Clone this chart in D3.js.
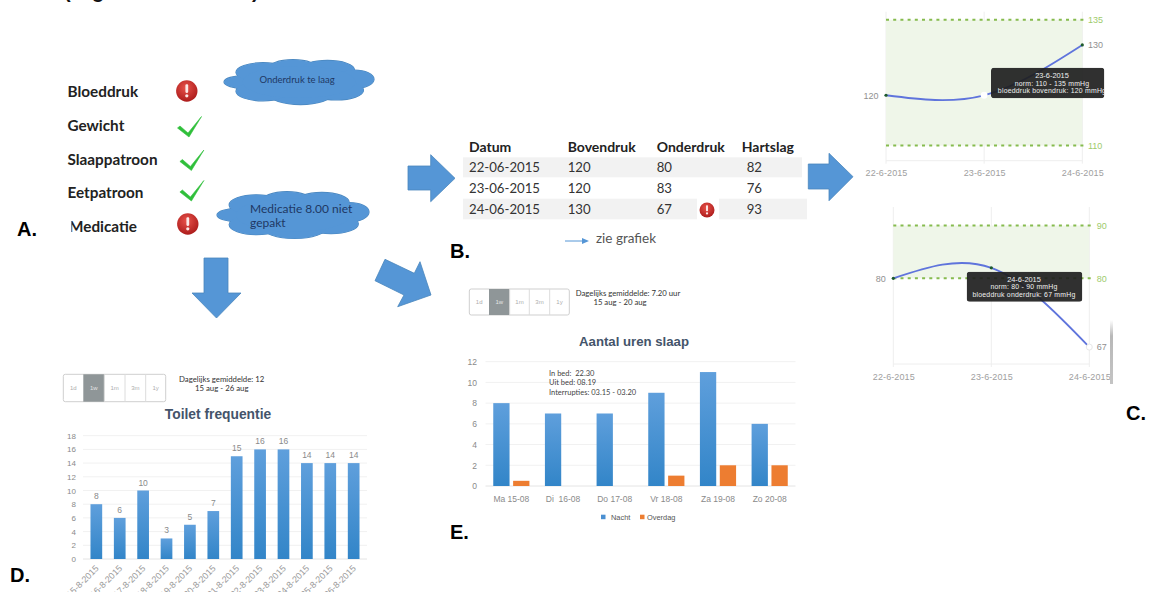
<!DOCTYPE html>
<html lang="nl">
<head>
<meta charset="utf-8">
<title>Patiëntoverzicht</title>
<script src="https://cdn.jsdelivr.net/npm/d3@7/dist/d3.min.js"></script>
<style>
  html, body { margin: 0; padding: 0; background: #fff; overflow: hidden; }
  svg { display: block; }
  text { font-family: "Liberation Sans", Arial, sans-serif; }
  .lato { font-family: Lato, sans-serif; }
  .axis .domain { display: none; }
</style>
</head>
<body>
<svg id="board" width="1149" height="592" viewBox="0 0 1149 592"></svg>
<script>
// Status overview
const statusItems = ["Bloeddruk", "Gewicht", "Slaappatroon", "Eetpatroon", "Medicatie"];

// Daily measurements table
const tableColumns = ["Datum", "Bovendruk", "Onderdruk", "Hartslag"];
const tableDates = ["22-06-2015", "23-06-2015", "24-06-2015"];
const tableUpper = [120, 120, 130];
const tableLower = [80, 83, 67];
const tablePulse = [82, 76, 93];

// Blood pressure trend charts
const trendDates = ["22-6-2015", "23-6-2015", "24-6-2015"];
const upperValues = [120, 120, 130];
const upperNorm = [110, 135];
const lowerValues = [80, 82, 67];
const lowerNorm = [80, 90];

// Toilet frequency chart
const toiletDates = ["15-8-2015", "16-8-2015", "17-8-2015", "18-8-2015", "19-8-2015", "20-8-2015",
  "21-8-2015", "22-8-2015", "23-8-2015", "24-8-2015", "25-8-2015", "26-8-2015"];
const toiletCounts = [8, 6, 10, 3, 5, 7, 15, 16, 16, 14, 14, 14];
const toiletTicks = [0, 2, 4, 6, 8, 10, 12, 14, 16, 18];

// Sleep chart
const sleepDays = ["Ma 15-08", "Di  16-08", "Do 17-08", "Vr 18-08", "Za 19-08", "Zo 20-08"];
const sleepNight = [8, 7, 7, 9, 11, 6];
const sleepDay = [0.5, 0, 0, 1, 2, 2];
const sleepTicks = [0, 2, 4, 6, 8, 10, 12];
const rangeOptions = ["1d", "1w", "1m", "3m", "1y"];

const BLUE = "#5596d6";
const svg = d3.select("#board");
const defs = svg.append("defs");

const barFill = defs.append("linearGradient").attr("id", "barFill")
  .attr("x1", 0).attr("y1", 0).attr("x2", 0).attr("y2", 1);
barFill.append("stop").attr("offset", "0%").attr("stop-color", "#5f9fdc");
barFill.append("stop").attr("offset", "100%").attr("stop-color", "#3285c8");

const alertFill = defs.append("radialGradient").attr("id", "alertFill")
  .attr("cx", "45%").attr("cy", "35%").attr("r", "70%");
alertFill.append("stop").attr("offset", "0%").attr("stop-color", "#e8524a");
alertFill.append("stop").attr("offset", "100%").attr("stop-color", "#a81818");

const shadeFill = defs.append("linearGradient").attr("id", "shadeFill")
  .attr("x1", 0).attr("y1", 0).attr("x2", 0).attr("y2", 1);
shadeFill.append("stop").attr("offset", "0%").attr("stop-color", "#ffffff");
shadeFill.append("stop").attr("offset", "25%").attr("stop-color", "#b8b8b8");
shadeFill.append("stop").attr("offset", "100%").attr("stop-color", "#c4c4c4");

function label(parent, x, y, str, opts = {}) {
  const t = parent.append("text").attr("x", x).attr("y", y).text(str)
    .attr("font-size", opts.size || 10)
    .attr("fill", opts.fill || "#333")
    .attr("text-anchor", opts.anchor || "start")
    .attr("font-weight", opts.weight || "normal");
  if (opts.cls) t.attr("class", opts.cls);
  return t;
}

function arrow(points) {
  svg.append("polygon")
    .attr("points", points.map(p => p.join(",")).join(" "))
    .attr("fill", BLUE).attr("stroke", "#4a86bd").attr("stroke-width", 0.8);
}

function alertIcon(cx, cy, r) {
  const g = svg.append("g").attr("transform", `translate(${cx},${cy})`);
  g.append("circle").attr("r", r).attr("fill", "url(#alertFill)");
  g.append("rect").attr("x", -r * 0.13).attr("y", -r * 0.62)
    .attr("width", r * 0.26).attr("height", r * 0.8).attr("rx", r * 0.1).attr("fill", "#fbe9e7");
  g.append("circle").attr("cy", r * 0.45).attr("r", r * 0.15).attr("fill", "#fbe9e7");
}

function checkIcon(dx, dy) {
  svg.append("path")
    .attr("d", "M177.5,128 L180,126 L188,133 L201.5,116.5 L189,137 Z")
    .attr("transform", `translate(${dx},${dy})`)
    .attr("fill", "#2fbf3a").attr("stroke", "#2fbf3a").attr("stroke-width", 0.6);
}

function cloud(cx, cy, rx, ry) {
  // A ring of overlapping ellipses: outlined first, then filled over to merge the outline.
  const lobes = [[-0.72, 0, 0.28, 0.28], [-0.48, -0.42, 0.36, 0.42], [-0.08, -0.55, 0.34, 0.42],
    [0.38, -0.52, 0.36, 0.42], [0.74, -0.12, 0.26, 0.4], [0.5, 0.36, 0.36, 0.42],
    [0.02, 0.52, 0.42, 0.46], [-0.48, 0.4, 0.36, 0.42], [0, 0, 0.75, 0.7]];
  const g = svg.append("g").attr("transform", `translate(${cx},${cy})`);
  const draw = (fill, stroke) => g.append("g").selectAll("ellipse").data(lobes).join("ellipse")
    .attr("cx", d => d[0] * rx).attr("cy", d => d[1] * ry)
    .attr("rx", d => d[2] * rx).attr("ry", d => d[3] * ry)
    .attr("fill", fill).attr("stroke", stroke).attr("stroke-width", 1.2);
  draw("none", "#4a86bd");
  draw(BLUE, "none");
}

/* Panel letters */
[["A.", 17, 236], ["B.", 450, 258], ["C.", 1126, 420], ["D.", 10, 582], ["E.", 450, 539]]
  .forEach(([s, x, y]) => label(svg, x, y, s, { size: 20, weight: "bold", fill: "#000" }));

/* Heading line running off the top edge: only its descenders remain visible */
[["(", 64], ["g", 92], [")", 252]].forEach(([s, x]) =>
  label(svg, x, -2, s, { size: 20, weight: "bold", fill: "#111" }));

/* Panel A: status list */
const statusY = d3.scalePoint().domain(statusItems).range([97, 232]);
statusItems.forEach((s, i) =>
  label(svg, i === 4 ? 69 : 67.5, statusY(s), s,
    { size: 15.3, weight: "bold", fill: "#222", cls: "lato" }));
// The first letter of the last row sits partly under the pasted panel edge
svg.append("rect").attr("x", 66).attr("y", 218).attr("width", 5.4).attr("height", 18).attr("fill", "#fff");
alertIcon(186.8, 91, 10.7);
alertIcon(187.8, 224, 10.7);
checkIcon(0, 0);
checkIcon(2.4, 33.5);
checkIcon(2.4, 64);

cloud(299, 82, 75, 23);
cloud(293, 215, 76, 24);
label(svg, 297, 83, "Onderdruk te laag", { size: 9.5, fill: "#1f3864", anchor: "middle", cls: "lato" });
label(svg, 250, 213, "Medicatie 8.00 niet", { size: 12, fill: "#1f3864", cls: "lato" });
label(svg, 250, 227, "gepakt", { size: 12, fill: "#1f3864", cls: "lato" });

/* Flow arrows between panels */
arrow([[204, 258], [228, 258], [228, 293], [241, 293], [216.5, 318], [192, 293], [204, 293]]);
arrow([[408, 166], [430.7, 166], [430.7, 154.7], [455, 178.3], [430.7, 201.7], [430.7, 190], [408, 190]]);
arrow([[808.3, 164], [829, 164], [829, 153.3], [853, 176.7], [829, 200.7], [829, 189], [808.3, 189]]);
arrow([[385, 259.3], [414.3, 273.3], [420, 261.7], [431, 295], [397.7, 306.7], [404, 295], [375, 280.7]]);

/* Panel B: measurements table */
svg.append("rect").attr("x", 463).attr("y", 157.3).attr("width", 339).attr("height", 20).attr("fill", "#f2f2f2");
svg.append("rect").attr("x", 463).attr("y", 198.7).attr("width", 234).attr("height", 20.6).attr("fill", "#f2f2f2");
svg.append("rect").attr("x", 719).attr("y", 198.7).attr("width", 88).attr("height", 20.6).attr("fill", "#f2f2f2");

const columnX = [469, 567.7, 656.7, 741.7];
tableColumns.forEach((c, i) =>
  label(svg, columnX[i], 151.7, c, { size: 14, weight: "bold", fill: "#222", cls: "lato" }));
const rowY = [172.3, 193.3, 214];
tableDates.forEach((d, i) => {
  [d, tableUpper[i], tableLower[i]].forEach((v, j) =>
    label(svg, columnX[j], rowY[i], v, { size: 13.2, fill: "#333", cls: "lato" }));
  label(svg, 746.7, rowY[i], tablePulse[i], { size: 13.2, fill: "#333", cls: "lato" });
});
alertIcon(707, 210, 7.5);

svg.append("line").attr("x1", 565).attr("x2", 584).attr("y1", 241).attr("y2", 241)
  .attr("stroke", BLUE).attr("stroke-width", 1);
svg.append("path").attr("d", "M582,238 L589,241 L582,244 Z").attr("fill", BLUE);
label(svg, 596, 242.7, "zie grafiek", { size: 13.5, fill: "#555", cls: "lato" });

/* Panel C: blood pressure trends */
function trendChart(cfg) {
  const g = svg.append("g");
  const x = d3.scalePoint().domain(trendDates).range(cfg.xRange);
  const y = d3.scaleLinear().domain(cfg.domain).range(cfg.yRange);
  const top = cfg.yRange[1], bottom = cfg.yRange[0];

  // vertical guides and baseline
  g.selectAll("line.guide").data(trendDates).join("line").attr("class", "guide")
    .attr("x1", d => x(d)).attr("x2", d => x(d)).attr("y1", top).attr("y2", bottom + 3)
    .attr("stroke", "#eeeeee");
  g.append("line").attr("x1", cfg.xRange[0]).attr("x2", cfg.xRange[1])
    .attr("y1", bottom).attr("y2", bottom).attr("stroke", "#eeeeee");

  // norm band with dashed limits
  g.append("rect").attr("x", cfg.xRange[0]).attr("width", cfg.xRange[1] - cfg.xRange[0])
    .attr("y", y(cfg.norm[1])).attr("height", y(cfg.norm[0]) - y(cfg.norm[1])).attr("fill", "#eff6e9");
  g.selectAll("line.norm").data(cfg.norm).join("line").attr("class", "norm")
    .attr("x1", cfg.xRange[0]).attr("x2", cfg.xRange[1] + 2)
    .attr("y1", d => y(d)).attr("y2", d => y(d))
    .attr("stroke", "#86bb4e").attr("stroke-width", 2).attr("stroke-dasharray", "3 4.2");

  const line = d3.line().x((d, i) => x(trendDates[i])).y(d => y(d)).curve(d3.curveNatural);
  g.append("path").attr("d", line(cfg.values)).attr("fill", "none")
    .attr("stroke", "#5f74dc").attr("stroke-width", 1.8);

  cfg.dots.forEach(([i, kind]) => {
    const c = g.append("circle").attr("cx", x(trendDates[i])).attr("cy", y(cfg.values[i]));
    if (kind === "open") c.attr("r", 3).attr("fill", "#fff").attr("stroke", "#e8e8e8");
    else if (kind === "halo") c.attr("r", 3.4).attr("fill", "#fff");
    else c.attr("r", 1.6).attr("fill", "#1d5a2c");
  });

  const xAxis = g.append("g").attr("class", "axis")
    .attr("transform", `translate(0,${cfg.xLabelY})`)
    .call(d3.axisBottom(x).tickSize(0).tickPadding(0));
  xAxis.selectAll("text").attr("font-size", 9).attr("fill", "#a0a0a0").attr("dy", "0.32em")
    .attr("letter-spacing", 0.1);

  const leftAxis = g.append("g").attr("class", "axis")
    .attr("transform", `translate(${cfg.leftX},0)`)
    .call(d3.axisLeft(y).tickValues([cfg.values[0]]).tickSize(0).tickPadding(0));
  leftAxis.selectAll("text").attr("font-size", 9).attr("fill", "#909090");

  const rightValues = [...cfg.norm, cfg.labelEnd];
  const rightAxis = g.append("g").attr("class", "axis")
    .attr("transform", `translate(${cfg.rightX},0)`)
    .call(d3.axisRight(y).tickValues(rightValues).tickSize(0).tickPadding(0));
  rightAxis.selectAll("text").attr("font-size", 9)
    .attr("fill", d => cfg.norm.includes(d) ? "#9ecb6c" : "#909090");

  // hover tooltip, clipped where it runs off its frame
  const clipId = cfg.id + "Clip";
  const box = cfg.tip;
  defs.append("clipPath").attr("id", clipId).append("rect")
    .attr("x", box.x).attr("y", box.y).attr("width", box.w).attr("height", box.h).attr("rx", 2);
  const tip = g.append("g").attr("clip-path", `url(#${clipId})`);
  tip.append("rect").attr("x", box.x).attr("y", box.y).attr("width", box.w).attr("height", box.h)
    .attr("rx", 3).attr("fill", "#1e1e1e").attr("fill-opacity", 0.92);
  box.lines.forEach((s, i) =>
    label(tip, box.cx, box.y0 + i * 7.7, s, { size: i === 0 ? 7.4 : 6.9, fill: "#f0f0f0", anchor: "middle" })
      .attr("letter-spacing", i === 0 ? 0 : 0.22));
}

trendChart({
  id: "upper", values: upperValues, norm: upperNorm, labelEnd: upperValues[2],
  domain: [107, 136.6], yRange: [160.7, 11.7], xRange: [886, 1082.3],
  xLabelY: 172.7, leftX: 878.5, rightX: 1088,
  dots: [[0, "dot"], [1, "halo"], [2, "dot"]],
  tip: { x: 991, y: 67.7, w: 113.3, h: 30.6, cx: 1052, y0: 77.8,
    lines: ["23-6-2015", "norm: 110 - 135 mmHg", "bloeddruk bovendruk: 120 mmHg"] }
});

trendChart({
  id: "lower", values: lowerValues, norm: lowerNorm, labelEnd: lowerValues[2],
  domain: [63.8, 93.5], yRange: [364, 207], xRange: [893.3, 1089.3],
  xLabelY: 376.7, leftX: 885.7, rightX: 1096.7,
  dots: [[0, "dot"], [1, "dot"], [2, "open"]],
  tip: { x: 966.7, y: 271.7, w: 115.6, h: 30, cx: 1024, y0: 281.6,
    lines: ["24-6-2015", "norm: 80 - 90 mmHg", "bloeddruk onderdruk: 67 mmHg"] }
});

// Edge of the adjacent window pane
svg.append("rect").attr("x", 1110).attr("y", 320).attr("width", 3).attr("height", 64).attr("fill", "url(#shadeFill)");

/* Range selector shared by the bar charts */
function rangeSelector(edges, y, h) {
  const g = svg.append("g");
  g.append("rect").attr("x", edges[0]).attr("y", y).attr("width", edges[5] - edges[0]).attr("height", h)
    .attr("rx", 2).attr("fill", "#fff").attr("stroke", "#cfcfcf").attr("stroke-width", 1);
  rangeOptions.forEach((opt, i) => {
    const selected = opt === "1w";
    if (selected) g.append("rect").attr("x", edges[i]).attr("y", y)
      .attr("width", edges[i + 1] - edges[i]).attr("height", h).attr("fill", "#8f9698");
    else if (i > 0) g.append("line").attr("x1", edges[i]).attr("x2", edges[i])
      .attr("y1", y).attr("y2", y + h).attr("stroke", "#dcdcdc");
    label(g, (edges[i] + edges[i + 1]) / 2, y + h / 2 + 2.2, opt,
      { size: 6, fill: selected ? "#e4e4e4" : "#adadad", anchor: "middle" });
  });
}

function styleAxisText(sel, size, fill) {
  sel.selectAll("text").attr("font-size", size).attr("fill", fill);
  sel.selectAll(".tick line").remove();
}

function hGrid(parent, y, ticks, x0, x1) {
  parent.selectAll("line.grid").data(ticks).join("line").attr("class", "grid")
    .attr("x1", x0).attr("x2", x1).attr("y1", d => y(d)).attr("y2", d => y(d))
    .attr("stroke", d => d === 0 ? "#e4e4e4" : "#f1f1f1");
}

/* Panel D: toilet frequency */
rangeSelector([63.3, 83.3, 104.3, 125, 145.7, 165.7], 374.3, 27.4);
label(svg, 221.7, 381.5, "Dagelijks gemiddelde: 12", { size: 7.8, fill: "#333", anchor: "middle", cls: "lato" });
label(svg, 221.7, 391, "15 aug - 26 aug", { size: 7.8, fill: "#333", anchor: "middle", cls: "lato" });
label(svg, 218, 419, "Toilet frequentie", { size: 13.8, weight: "bold", fill: "#44546a", anchor: "middle" });

(function toiletChart() {
  const g = svg.append("g");
  const x = d3.scaleBand().domain(toiletDates).range([83, 367]).paddingInner(0.5).paddingOuter(0.32);
  const y = d3.scaleLinear().domain([0, 18]).range([559, 435.7]);
  hGrid(g, y, toiletTicks, 83, 367);

  g.selectAll("rect.bar").data(toiletCounts).join("rect").attr("class", "bar")
    .attr("x", (d, i) => x(toiletDates[i])).attr("width", x.bandwidth())
    .attr("y", d => y(d)).attr("height", d => y(0) - y(d)).attr("fill", "url(#barFill)");

  g.selectAll("text.value").data(toiletCounts).join("text").attr("class", "value")
    .attr("x", (d, i) => x(toiletDates[i]) + x.bandwidth() / 2).attr("y", d => y(d) - 5)
    .attr("text-anchor", "middle").attr("font-size", 8.5).attr("fill", "#8a8a8a").text(d => d);

  const yAxis = g.append("g").attr("class", "axis").attr("transform", "translate(76,0)")
    .call(d3.axisLeft(y).tickValues(toiletTicks).tickSize(0).tickPadding(0));
  styleAxisText(yAxis, 8, "#8a8a8a");

  const xAxis = g.append("g").attr("class", "axis").attr("transform", "translate(0,559)")
    .call(d3.axisBottom(x).tickSize(0).tickPadding(0));
  styleAxisText(xAxis, 9, "#9a9a9a");
  xAxis.selectAll("text").attr("text-anchor", "end").attr("dy", 0).attr("y", 0)
    .attr("transform", "translate(3,10) rotate(-45)");
})();

/* Panel E: hours of sleep */
rangeSelector([469.3, 489, 509.7, 529.3, 549.7, 569.3], 289, 26);
label(svg, 628, 296, "Dagelijks gemiddelde: 7.20 uur", { size: 7.75, fill: "#333", anchor: "middle", cls: "lato" });
label(svg, 620, 305.3, "15 aug - 20 aug", { size: 7.75, fill: "#333", anchor: "middle", cls: "lato" });
label(svg, 634, 346, "Aantal uren slaap", { size: 13.2, weight: "bold", fill: "#44546a", anchor: "middle" });

(function sleepChart() {
  const g = svg.append("g");
  const x0 = d3.scaleBand().domain(sleepDays).range([485.5, 795.5]).paddingInner(0.3).paddingOuter(0.15);
  const x1 = d3.scaleBand().domain(["Nacht", "Overdag"]).range([0, x0.bandwidth()]).paddingInner(0.18);
  const y = d3.scaleLinear().domain([0, 12]).range([486, 361.7]);
  hGrid(g, y, sleepTicks, 485.5, 795.5);

  g.selectAll("rect.night").data(sleepNight).join("rect").attr("class", "night")
    .attr("x", (d, i) => x0(sleepDays[i]) + x1("Nacht")).attr("width", x1.bandwidth())
    .attr("y", d => y(d)).attr("height", d => y(0) - y(d)).attr("fill", "url(#barFill)");
  g.selectAll("rect.day").data(sleepDay).join("rect").attr("class", "day")
    .attr("x", (d, i) => x0(sleepDays[i]) + x1("Overdag")).attr("width", x1.bandwidth())
    .attr("y", d => y(d)).attr("height", d => y(0) - y(d)).attr("fill", "#ed7d31");

  const yAxis = g.append("g").attr("class", "axis").attr("transform", "translate(477,0)")
    .call(d3.axisLeft(y).tickValues(sleepTicks).tickSize(0).tickPadding(0));
  styleAxisText(yAxis, 8.5, "#8a8a8a");

  const xAxis = g.append("g").attr("class", "axis").attr("transform", "translate(0,499)")
    .call(d3.axisBottom(x0).tickSize(0).tickPadding(0));
  styleAxisText(xAxis, 8.5, "#8a8a8a");
  xAxis.selectAll("text").attr("dy", "0.32em").attr("y", 0).style("white-space", "pre");

  ["In bed:  22.30", "Uit bed: 08.19", "Interrupties: 03.15 - 03.20"].forEach((s, i) =>
    label(g, 549, 375.7 + i * 9.4, s, { size: 7.5, fill: "#444", cls: "lato" }).style("white-space", "pre"));

  g.append("rect").attr("x", 601).attr("y", 514.7).attr("width", 4.5).attr("height", 4.5).attr("fill", "#4a90d2");
  label(g, 611, 519.5, "Nacht", { size: 7.4, fill: "#555" });
  g.append("rect").attr("x", 640).attr("y", 514.7).attr("width", 4.5).attr("height", 4.5).attr("fill", "#ed7d31");
  label(g, 647, 519.5, "Overdag", { size: 7.4, fill: "#555" });
})();
</script>
</body>
</html>
